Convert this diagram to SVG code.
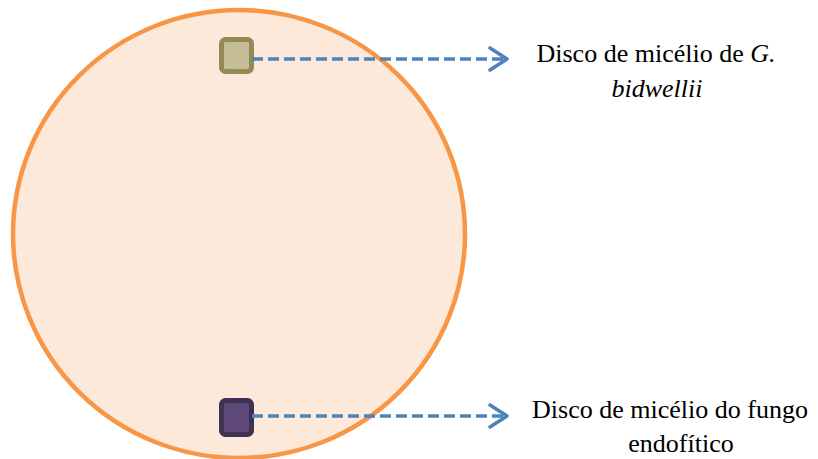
<svg xmlns="http://www.w3.org/2000/svg" width="818" height="459" viewBox="0 0 818 459">
<defs>
<style>
.conn{fill:none;stroke:#4F81BD;stroke-width:3.6;stroke-dasharray:11 5}
.head{fill:none;stroke:#4F81BD;stroke-width:3.6;stroke-linecap:round;stroke-linejoin:round}
text{font-family:"Liberation Serif","Times New Roman",serif;font-size:26px;fill:#000;text-anchor:middle}
</style>
</defs>
<rect width="818" height="459" fill="#fff"/>
<g id="plate">
<ellipse cx="239" cy="234" rx="226" ry="224" fill="#FDE9D9" stroke="#F79646" stroke-width="4.5"/>
</g>
<g id="disc-gb">
<rect x="221.5" y="39.5" width="30" height="32" rx="4" fill="#C4BD97" stroke="#948A54" stroke-width="5"/>
</g>
<g id="disc-endo">
<rect x="221.5" y="400.5" width="30" height="34" rx="4" fill="#5F497A" stroke="#3F3151" stroke-width="5"/>
</g>
<g id="connectors">
<path class="conn" d="M252 59 H505"/>
<path class="head" d="M490 48 L507 59 L490 70"/>
<path class="conn" d="M252 416 H505"/>
<path class="head" d="M490 405 L507 416 L490 427"/>
</g>
<g id="label-gb">
<text x="656" y="62" font-family="Liberation Serif, serif">Disco de micélio de <tspan font-style="italic" font-family="Liberation Serif, serif">G.</tspan></text>
<text x="657" y="97" font-style="italic" font-family="Liberation Serif, serif">bidwellii</text>
</g>
<g id="label-endo">
<text x="670" y="418" font-family="Liberation Serif, serif">Disco de micélio do fungo</text>
<text x="681" y="452" font-family="Liberation Serif, serif">endofítico</text>
</g>
</svg>
